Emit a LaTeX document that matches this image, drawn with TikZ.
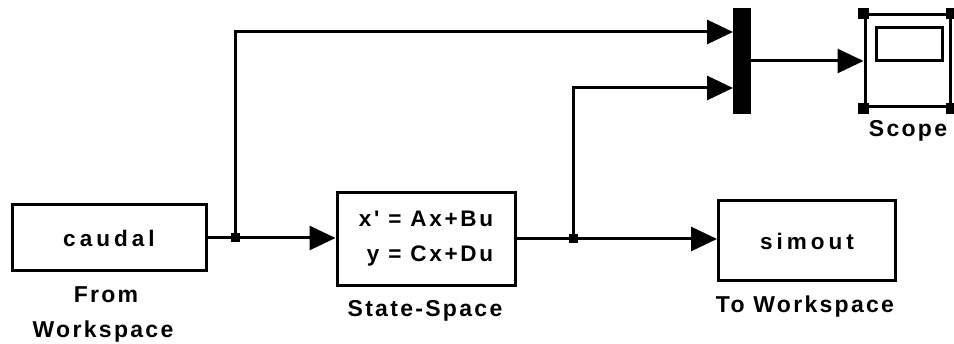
\documentclass[tikz,border=0pt]{standalone}
\usepackage{fontspec}
\setmainfont{Liberation Sans}
\newfontfamily\lblfont{Liberation Sans}[LetterSpace=10]
\newfontfamily\boxfont{Liberation Sans}[LetterSpace=12]
\newfontfamily\cfont{Liberation Sans}[LetterSpace=18]
\usetikzlibrary{arrows.meta}
\begin{document}
\begin{tikzpicture}[x=1pt,y=-1pt,
  blk/.style={draw,line width=3pt,rectangle,inner sep=0pt},
  wire/.style={line width=3pt},
  sig/.style={wire,-{Triangle[length=26pt,width=24pt]}},
  lbl/.style={font=\lblfont\bfseries\fontsize{23}{27}\selectfont,anchor=base,inner sep=0pt},
  jdot/.style={fill,rectangle,minimum size=9pt,inner sep=0pt},
  corner/.style={fill,rectangle,minimum size=11pt,inner sep=0pt}
]
\useasboundingbox (0,0) rectangle (954,344);
% blocks
\node[blk,minimum width=194pt,minimum height=66pt,
  font=\cfont\bfseries\fontsize{22.5}{26}\selectfont] (fw) at (109,238) {caudal};
\node[blk,minimum width=178pt,minimum height=93pt,align=right,
  font=\boxfont\bfseries\fontsize{22.5}{35}\selectfont] (ss) at (426,239)
  {x' = Ax+Bu\\ y = Cx+Du};
\node[blk,minimum width=177pt,minimum height=80pt,
  font=\cfont\bfseries\fontsize{22.5}{26}\selectfont] (so) at (807,241) {simout};
\node[fill,rectangle,minimum width=18pt,minimum height=106pt,inner sep=0pt] (mux) at (742,61) {};
\node[blk,minimum width=85pt,minimum height=92pt] (scope) at (907.5,61) {};
\node[blk,minimum width=66pt,minimum height=33pt] (screen) at (909,44.5) {};
\node[corner] (c1) at (scope.north west) {};
\node[corner] (c2) at (scope.north east) {};
\node[corner] (c3) at (scope.south west) {};
\node[corner] (c4) at (scope.south east) {};
% coordinates
\coordinate (j1) at (235,238);
\coordinate (j2) at (573,239);
\coordinate (min1) at (733,32);
\coordinate (min2) at (733,88);
% wires
\draw[wire] (fw.east) -- (j1);
\draw[sig] (j1) -- (j1 -| ss.west);
\draw[sig] (j1) |- (min1);
\draw[wire] (ss.east) -- (j2);
\draw[sig] (j2) -- (j2 -| so.west);
\draw[sig] (j2) |- (min2);
\draw[sig] (mux.east) -- (scope.west);
\node[jdot] (d1) at (j1) {};
\node[jdot] (d2) at (j2) {};
% labels
\node[lbl] (l1) at (106,303) {From};
\node[lbl] (l2) at (103,338) {Workspace};
\node[lbl] (l3) at (425,317) {State-Space};
\node[lbl] (l4) at (805,313) {To Workspace};
\node[lbl] (l5) at (908,137) {Scope};
\end{tikzpicture}
\end{document}
